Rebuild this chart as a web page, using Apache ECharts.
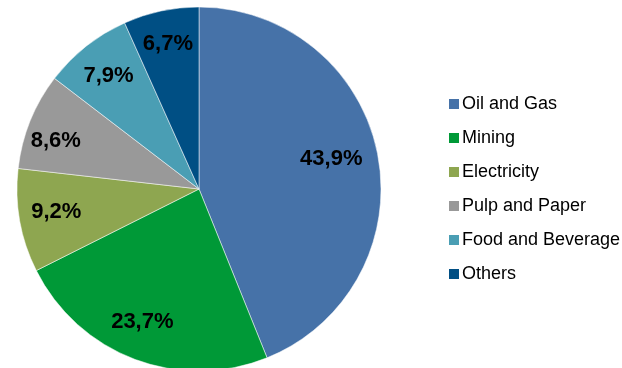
<!DOCTYPE html>
<html>
<head>
<meta charset="utf-8">
<script src="https://cdn.jsdelivr.net/npm/echarts@6/dist/echarts.min.js"></script>
<style>
  html, body { margin: 0; padding: 0; background: #fff; }
  #chart { width: 622px; height: 368px; }
</style>
</head>
<body>
<div id="chart"></div>
<script>
// categories and shares (%)
var sectors = ['Oil and Gas', 'Mining', 'Electricity', 'Pulp and Paper', 'Food and Beverage', 'Others'];
var shares = [43.9, 23.7, 9.2, 8.6, 7.9, 6.7];
var colors = ['#4672a8', '#009937', '#8ea650', '#999999', '#4a9eb4', '#004f84'];

var chart = echarts.init(document.getElementById('chart'));

var pieData = sectors.map(function (name, i) {
    return { name: name, value: shares[i] };
});

// small nudges so the labels sit where the original puts them
var labelNudge = [[-14, -2], [-4, -6], [4, -3], [-5, 8], [2, 4], [0, 1]];
var labelData = pieData.map(function (d, i) {
    return { name: d.name, value: d.value, label: { offset: labelNudge[i] } };
});

var option = {
    animation: false,
    color: colors,
    legend: {
        orient: 'vertical',
        left: 444,
        top: 90,
        itemWidth: 10,
        itemHeight: 10,
        itemGap: 16,
        icon: 'rect',
        itemStyle: { borderWidth: 0 },
        textStyle: { fontFamily: "'Liberation Sans', Arial, sans-serif", fontSize: 18, color: '#000', padding: [0, 0, 0, -2] },
        data: sectors
    },
    series: [
        {
            // the pie itself
            type: 'pie',
            center: [199, 189],
            radius: [0, 182],
            startAngle: 90,
            clockwise: true,
            silent: true,
            itemStyle: { borderColor: '#fff', borderWidth: 0.5 },
            label: { show: false },
            labelLine: { show: false },
            data: pieData
        },
        {
            // transparent ring, only to put the labels at ~0.8 of the radius
            type: 'pie',
            center: [199, 189],
            radius: [110, 182],
            startAngle: 90,
            clockwise: true,
            silent: true,
            itemStyle: { color: 'rgba(0,0,0,0)' },
            label: {
                show: true,
                position: 'inside',
                fontFamily: "'Liberation Sans', Arial, sans-serif",
                fontSize: 22,
                fontWeight: 'bold',
                color: '#000',
                formatter: function (p) {
                    return p.value.toFixed(1).replace('.', ',') + '%';
                }
            },
            labelLine: { show: false },
            data: labelData
        }
    ]
};

chart.setOption(option);
</script>
</body>
</html>
